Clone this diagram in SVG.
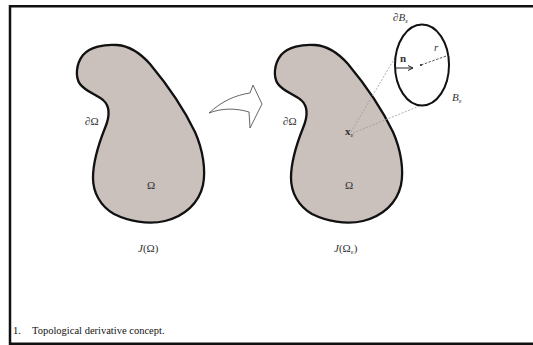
<svg xmlns="http://www.w3.org/2000/svg" width="533" height="345" viewBox="0 0 533 345">
<style>
.blob{fill:#cac0bc;stroke:#111;stroke-width:2.3;stroke-linejoin:round}
.m{font-family:"Liberation Serif","DejaVu Serif",serif;font-size:11px;fill:#333}
.it{font-style:italic}
.guide{fill:none;stroke:#9a9a9a;stroke-width:0.8;stroke-dasharray:2 1.5}
.frame{stroke:#111;stroke-width:2.5;fill:none}
</style>
<defs>
<path id="blobShape" d="M83,55 C90,47 104,44 117,45 C131,46 142,55 150,64 C165,82 183,107 195,132 C203,150 206,170 203,185 C199,203 185,216 165,221 C148,225 128,221 114,214 C100,206 93,192 93,178 C93,160 99,143 105,128 C110,116 110,106 103,100 C95,94 85,91 80,84 C75,77 76,64 83,55 Z"/>
<marker id="ah" markerWidth="6" markerHeight="6" refX="5" refY="3" orient="auto" markerUnits="userSpaceOnUse"><path d="M0,0.5 L5,3 L0,5.5" fill="none" stroke="#222" stroke-width="1"/></marker>
</defs>
<rect width="533" height="345" fill="#fff"/>
<path class="frame" d="M10,345 V6.2 H533 M10,343.8 H533"/>

<g id="domain-left">
<use href="#blobShape" class="blob"/>
<text class="m" x="85" y="125">∂Ω</text>
<text class="m" x="147" y="189">Ω</text>
<text class="m" x="138" y="252"><tspan class="it">J</tspan>(Ω)</text>
</g>

<g id="transform-arrow">
<path d="M209,113 C222,101 236,95 250,93 L253,85 L262,104 L250,128 L249,112 C236,108 222,108 209,113 Z" fill="#fff" stroke="#555" stroke-width="0.9" stroke-linejoin="round"/>
</g>

<g id="domain-right">
<use href="#blobShape" class="blob" transform="translate(198,0)"/>
<text class="m" x="283" y="125">∂Ω</text>
<text class="m" x="345" y="189">Ω</text>
<text class="m" x="334" y="252"><tspan class="it">J</tspan>(Ω<tspan font-size="7" dy="2">ε</tspan><tspan dy="-2">)</tspan></text>
<text class="m" x="345" y="135" font-weight="bold">x<tspan font-size="7" dy="2" font-weight="normal">ε</tspan></text>
</g>

<g id="connectors">
<line class="guide" x1="351" y1="132" x2="396" y2="56"/>
<line class="guide" x1="353" y1="133" x2="422" y2="105"/>
</g>

<g id="ball">
<ellipse cx="422" cy="65" rx="27" ry="40.5" fill="#fff" stroke="#111" stroke-width="2"/>
<line x1="395" y1="68" x2="413" y2="68" stroke="#222" stroke-width="1" marker-end="url(#ah)"/>
<circle cx="421" cy="65" r="1.1" fill="#222"/>
<line x1="421" y1="65" x2="449" y2="55" stroke="#444" stroke-width="0.9" stroke-dasharray="2.5 1.5"/>
<text class="m" x="400" y="62" font-weight="bold" font-size="9">n</text>
<text class="m it" x="434" y="51" font-size="8">r</text>
<text class="m" x="393" y="21"><tspan class="it">∂B</tspan><tspan font-size="7" dy="2">ε</tspan></text>
<text class="m it" x="452" y="101">B<tspan font-size="7" dy="2" font-style="normal">ε</tspan></text>
</g>

<g id="caption">
<text x="13" y="334" font-family="Liberation Serif, serif" font-size="10.5" fill="#111">1.</text>
<text x="32" y="334" font-family="Liberation Serif, serif" font-size="10.5" fill="#111">Topological derivative concept.</text>
</g>
</svg>
